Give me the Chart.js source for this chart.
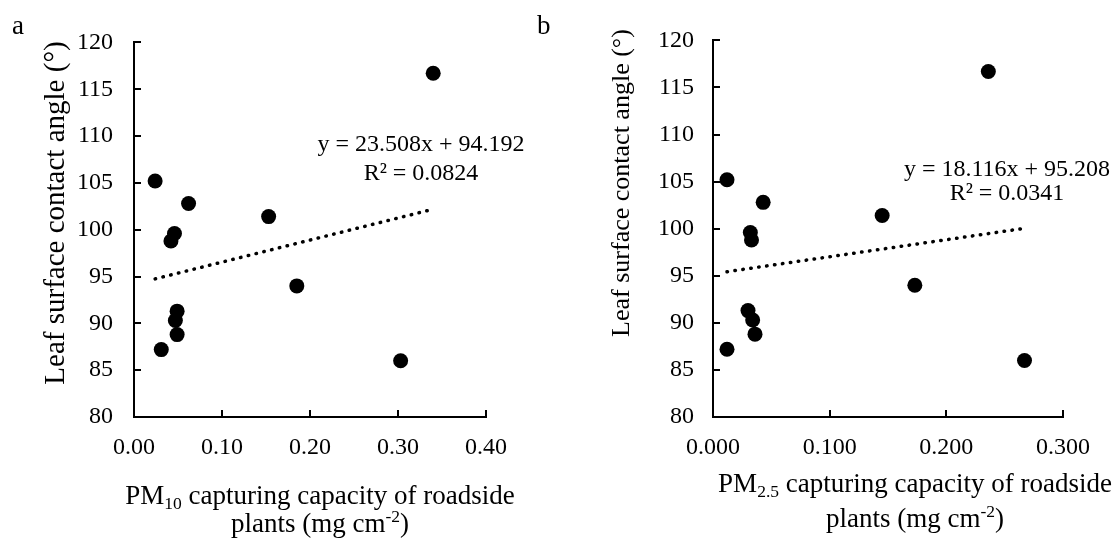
<!DOCTYPE html>
<html>
<head>
<meta charset="utf-8">
<script src="https://cdn.jsdelivr.net/npm/chart.js@4.4.0/dist/chart.umd.min.js"></script>
<style>
  html, body { margin: 0; padding: 0; background: #fff; }
  #wrap { position: relative; width: 1113px; height: 539px; overflow: hidden; }
  .box { position: absolute; top: 0; height: 539px; }
</style>
</head>
<body>
<div id="wrap">
  <div class="box" style="left:0;width:530px"><canvas id="chartA"></canvas></div>
  <div class="box" style="left:530px;width:583px"><canvas id="chartB"></canvas></div>
</div>
<script>
// contact angle of the leaf surface (same plants in both panels)
const angle = [116.7, 105.2, 102.8, 101.4, 99.6, 98.8, 94.0, 91.3, 90.3, 88.8, 87.2, 86.0];
// PM10 and PM2.5 capturing capacity, mg cm-2
const pm10 = [0.340, 0.024, 0.062, 0.153, 0.046, 0.042, 0.185, 0.049, 0.047, 0.049, 0.031, 0.303];
const pm25 = [0.236, 0.012, 0.043, 0.145, 0.032, 0.033, 0.173, 0.030, 0.034, 0.036, 0.012, 0.267];

// linear trendline ends
const trend10X = [0.024, 0.340];
const trend10Y = [94.75, 102.19];
const trend25X = [0.012, 0.267];
const trend25Y = [95.43, 100.04];

const yTickLabels = ['80', '85', '90', '95', '100', '105', '110', '115', '120'];
const xTickLabels10 = ['0.00', '0.10', '0.20', '0.30', '0.40'];
const xTickLabels25 = ['0.000', '0.100', '0.200', '0.300'];

const FONT = "'Liberation Serif', 'Times New Roman', serif";

function pts(xs, ys) {
  return xs.map(function (x, i) { return { x: x, y: ys[i] }; });
}

// draws the texts: panel letter, equation, axis titles with sub/superscripts
const textLayer = {
  id: 'textLayer',
  afterDraw(chart, args, opts) {
    const ctx = chart.ctx;
    ctx.save();
    ctx.fillStyle = '#000';
    ctx.textBaseline = 'alphabetic';
    opts.items.forEach(function (it) {
      const size = it.size;
      const runs = it.runs.map(function (r) {
        const s = (r.sub || r.sup) ? size * 0.65 : size;
        ctx.font = s + 'px ' + FONT;
        return { t: r.t, s: s, w: ctx.measureText(r.t).width, dy: r.sub ? size * 0.2 : (r.sup ? -size * 0.38 : 0) };
      });
      const total = runs.reduce(function (a, r) { return a + r.w; }, 0);
      ctx.save();
      ctx.translate(it.x, it.y);
      if (it.rotate) ctx.rotate(it.rotate);
      let x = it.align === 'left' ? 0 : -total / 2;
      runs.forEach(function (r) {
        ctx.font = r.s + 'px ' + FONT;
        ctx.textAlign = 'left';
        ctx.fillText(r.t, x, r.dy);
        x += r.w;
      });
      ctx.restore();
    });
    ctx.restore();
  }
};

function makeChart(id, xs, tx, ty, xMax, xLabels, box, texts) {
  return new Chart(document.getElementById(id), {
    type: 'scatter',
    data: {
      datasets: [{
        data: pts(xs, angle),
        backgroundColor: '#000',
        borderWidth: 0,
        pointRadius: 7.5,
        order: 1
      }, {
        type: 'line',
        data: pts(tx, ty),
        borderColor: '#000',
        borderWidth: 3.5,
        borderDash: [0.5, 7.5],
        borderCapStyle: 'round',
        pointRadius: 0,
        fill: false,
        order: 2
      }]
    },
    options: {
      responsive: true,
      maintainAspectRatio: false,
      animation: false,
      events: [],
      layout: { autoPadding: false, padding: { left: 0, right: box.right, top: 40, bottom: 0 } },
      plugins: {
        legend: { display: false },
        tooltip: { enabled: false },
        textLayer: { items: texts }
      },
      scales: {
        x: {
          type: 'linear',
          min: 0,
          max: xMax,
          ticks: {
            stepSize: 0.1,
            padding: 23,
            color: '#000',
            font: { family: FONT, size: 24 },
            callback: function (v, i) { return xLabels[i]; }
          },
          grid: { drawOnChartArea: false, drawTicks: true, tickLength: -7, color: '#000', lineWidth: 2 },
          border: { display: true, color: '#000', width: 2 },
          afterFit: function (s) { s.height = 122; }
        },
        y: {
          type: 'linear',
          min: 80,
          max: 120,
          ticks: {
            stepSize: 5,
            padding: box.ypad,
            color: '#000',
            font: { family: FONT, size: 24 },
            callback: function (v, i) { return yTickLabels[i]; }
          },
          grid: { drawOnChartArea: false, drawTicks: true, tickLength: -7, color: '#000', lineWidth: 2 },
          border: { display: true, color: '#000', width: 2 },
          afterFit: function (s) { s.width = box.yw; }
        }
      }
    },
    plugins: [textLayer]
  });
}

makeChart('chartA', pm10, trend10X, trend10Y, 0.4, xTickLabels10,
  { right: 35, yw: 134, ypad: 28 },
  [
    { runs: [{ t: 'a' }], x: 12, y: 34, size: 27, align: 'left' },
    { runs: [{ t: 'y = 23.508x + 94.192' }], x: 421, y: 151, size: 24 },
    { runs: [{ t: 'R² = 0.0824' }], x: 421, y: 180, size: 24 },
    { runs: [{ t: 'PM' }, { t: '10', sub: true }, { t: ' capturing capacity of roadside' }], x: 320, y: 504, size: 27 },
    { runs: [{ t: 'plants (mg cm' }, { t: '-2', sup: true }, { t: ')' }], x: 320, y: 532, size: 27 },
    { runs: [{ t: 'Leaf surface contact angle (°)' }], x: 64, y: 213, size: 29, rotate: -Math.PI / 2 }
  ]);

makeChart('chartB', pm25, trend25X, trend25Y, 0.3, xTickLabels25,
  { right: 48, yw: 183, ypad: 26 },
  [
    { runs: [{ t: 'b' }], x: 7, y: 34, size: 27, align: 'left' },
    { runs: [{ t: 'y = 18.116x + 95.208' }], x: 477, y: 176, size: 24 },
    { runs: [{ t: 'R² = 0.0341' }], x: 477, y: 200, size: 24 },
    { runs: [{ t: 'PM' }, { t: '2.5', sub: true }, { t: ' capturing capacity of roadside' }], x: 385, y: 492, size: 27 },
    { runs: [{ t: 'plants (mg cm' }, { t: '-2', sup: true }, { t: ')' }], x: 385, y: 527, size: 27 },
    { runs: [{ t: 'Leaf surface contact angle (°)' }], x: 99, y: 183, size: 26, rotate: -Math.PI / 2 }
  ]);
</script>
</body>
</html>
